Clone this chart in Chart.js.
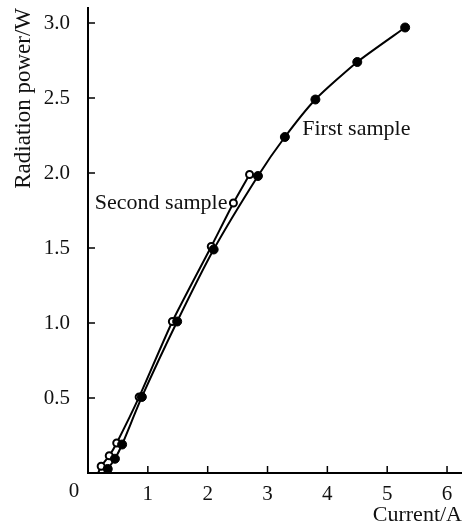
<!DOCTYPE html>
<html>
<head>
<meta charset="utf-8">
<script src="https://cdn.jsdelivr.net/npm/chart.js@4/dist/chart.umd.min.js"></script>
<style>
  html, body { margin: 0; padding: 0; background: #fff; overflow: hidden; }
  #wrap { width: 462px; height: 528px; overflow: hidden; }
</style>
</head>
<body>
<div id="wrap"><canvas id="powerChart" width="468" height="528"></canvas></div>
<script>
// values (first pair = where the curve meets the axis)
var firstCurrent = [0.27, 0.33, 0.45, 0.57, 0.90, 1.49, 2.10, 2.84, 3.29, 3.80, 4.50, 5.30];
var firstPower   = [0, 0.027, 0.095, 0.19, 0.507, 1.01, 1.49, 1.98, 2.24, 2.49, 2.74, 2.97];
var secondCurrent = [0.17, 0.22, 0.355, 0.48, 0.855, 1.41, 2.06, 2.43, 2.70];
var secondPower   = [0, 0.045, 0.115, 0.20, 0.507, 1.01, 1.51, 1.80, 1.99];
var xTicks = [1, 2, 3, 4, 5, 6];
var yTicks = [0.5, 1.0, 1.5, 2.0, 2.5, 3.0];
var labels = [
    { text: 'First sample', x: 3.58, y: 2.29, align: 'left' },
    { text: 'Second sample', x: 2.33, y: 1.80, align: 'right' }
];

var serif = '"Liberation Serif", "DejaVu Serif", serif';

function toPoints(xs, ys) {
    return xs.map(function (x, i) { return { x: x, y: ys[i] }; });
}

// inner tick marks, origin "0" and curve labels
var extras = {
    id: 'extras',
    afterDraw: function (chart) {
        var ctx = chart.ctx;
        var sx = chart.scales.x, sy = chart.scales.y;
        var bottom = sy.getPixelForValue(0);
        var left = sx.getPixelForValue(0);
        ctx.save();
        ctx.strokeStyle = '#000';
        ctx.lineWidth = 1.5;
        ctx.beginPath();
        xTicks.forEach(function (v) {
            var px = sx.getPixelForValue(v);
            ctx.moveTo(px, bottom);
            ctx.lineTo(px, bottom - 7);
        });
        yTicks.forEach(function (v) {
            var py = sy.getPixelForValue(v);
            ctx.moveTo(left, py);
            ctx.lineTo(left + 7, py);
        });
        ctx.stroke();

        ctx.fillStyle = '#111';
        ctx.font = '21px ' + serif;
        ctx.textBaseline = 'middle';
        ctx.textAlign = 'center';
        ctx.fillText('0', left - 14, bottom + 18);
        ctx.font = '22px ' + serif;
        labels.forEach(function (l) {
            ctx.textAlign = l.align;
            ctx.fillText(l.text, sx.getPixelForValue(l.x), sy.getPixelForValue(l.y));
        });
        ctx.restore();
    }
};

function hideAxisPoint(c) {
    return c.raw && c.raw.y === 0 ? 0 : null;
}

var ctx = document.getElementById('powerChart').getContext('2d');
var chart = new Chart(ctx, {
    type: 'scatter',
    data: {
        datasets: [{
            label: 'First sample',
            data: toPoints(firstCurrent, firstPower),
            showLine: true,
            borderColor: '#000',
            borderWidth: 2,
            backgroundColor: '#000',
            pointBackgroundColor: '#000',
            pointBorderColor: '#000',
            pointRadius: function (c) { var r = hideAxisPoint(c); return r === null ? 4.5 : r; },
            pointBorderWidth: 1,
            tension: 0.2
        }, {
            label: 'Second sample',
            data: toPoints(secondCurrent, secondPower),
            showLine: true,
            borderColor: '#000',
            borderWidth: 2,
            pointBackgroundColor: '#fff',
            pointBorderColor: '#000',
            pointRadius: function (c) { var r = hideAxisPoint(c); return r === null ? 3.5 : r; },
            pointBorderWidth: 2,
            tension: 0.2
        }]
    },
    options: {
        responsive: false,
        animation: false,
        layout: { padding: { top: 8, right: 0, left: 0, bottom: 0 } },
        plugins: { legend: { display: false }, tooltip: { enabled: false } },
        scales: {
            x: {
                type: 'linear',
                min: 0,
                max: 6.25,
                grid: { display: false },
                border: { display: true, color: '#000', width: 2 },
                afterFit: function (s) { s.height = 55; },
                afterBuildTicks: function (s) {
                    s.ticks = xTicks.map(function (v) { return { value: v }; });
                },
                ticks: {
                    color: '#111',
                    font: { family: serif, size: 21 },
                    padding: 1,
                    maxRotation: 0
                },
                title: {
                    display: true,
                    text: 'Current/A',
                    align: 'end',
                    color: '#111',
                    font: { family: serif, size: 22 },
                    padding: { top: 0, bottom: 0 }
                }
            },
            y: {
                type: 'linear',
                min: 0,
                max: 3.1,
                grid: { display: false },
                border: { display: true, color: '#000', width: 2 },
                afterFit: function (s) { s.width = 88; s.paddingTop = 0; s.paddingBottom = 0; },
                afterBuildTicks: function (s) {
                    s.ticks = yTicks.map(function (v) { return { value: v }; });
                },
                ticks: {
                    color: '#111',
                    font: { family: serif, size: 21 },
                    padding: 10,
                    callback: function (v) { return v.toFixed(1); }
                },
                title: {
                    display: true,
                    text: 'Radiation power/W',
                    align: 'end',
                    color: '#111',
                    font: { family: serif, size: 23 },
                    padding: { top: 10, bottom: 0 }
                }
            }
        }
    },
    plugins: [extras]
});
</script>
</body>
</html>
